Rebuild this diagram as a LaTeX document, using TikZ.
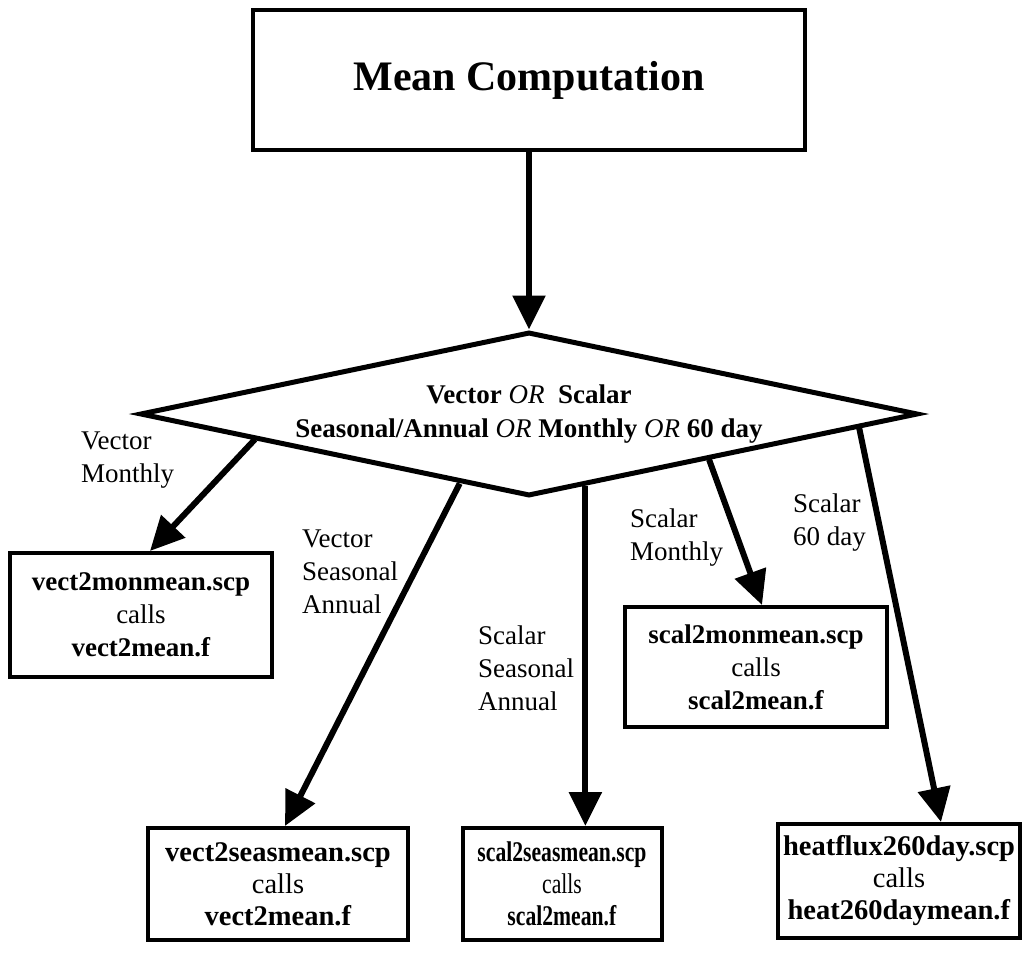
\documentclass[tikz,border=0pt]{standalone}
\usepackage{fontspec}
\setmainfont{Liberation Serif}
\newfontfamily\condserif[FakeStretch=0.76]{Liberation Serif}
\usetikzlibrary{arrows.meta,shapes.geometric,calc}
\begin{document}
\begin{tikzpicture}[x=1pt,y=-1pt]
\useasboundingbox (0,0) rectangle (1026,953);
\tikzset{
  box/.style={draw, line width=4pt, inner sep=0pt, align=center, font=\fontsize{27}{33}\selectfont},
  lowbox/.style={box, font=\fontsize{28.5}{32}\selectfont},
  arr/.style={line width=6pt, -{Triangle[length=34pt,width=32pt]}},
  lbl/.style={align=left, inner sep=0pt, anchor=west, font=\fontsize{27}{33}\selectfont},
}
% top box
\node[box, minimum width=552pt, minimum height=140pt, font=\fontsize{42}{50}\selectfont\bfseries] (mc) at (529,80) {Mean Computation};
% decision diamond
\node[diamond, draw, line width=5pt, inner xsep=-14pt, inner ysep=0pt, aspect=4.74,
      minimum width=778pt, minimum height=164pt, align=center,
      font=\fontsize{27}{34}\selectfont] (d) at (529,414)
  {\textbf{Vector} \textit{OR}\ \ \textbf{Scalar}\\
   \textbf{Seasonal/Annual} \textit{OR} \textbf{Monthly} \textit{OR} \textbf{60 day}};
% result boxes
\node[box, minimum width=262pt, minimum height=124pt] (vm) at (141,615)
  {\textbf{vect2monmean.scp}\\calls\\\textbf{vect2mean.f}};
\node[box, minimum width=262pt, minimum height=120pt] (sm) at (756,667)
  {\textbf{scal2monmean.scp}\\calls\\\textbf{scal2mean.f}};
\node[lowbox, minimum width=260pt, minimum height=112pt] (vsa) at (278,884)
  {\textbf{vect2seasmean.scp}\\calls\\\textbf{vect2mean.f}};
\node[lowbox, minimum width=199pt, minimum height=112pt, font=\condserif\fontsize{28.5}{32}\selectfont] (ssa) at (562,884)
  {\textbf{scal2seasmean.scp}\\calls\\\textbf{scal2mean.f}};
\node[lowbox, minimum width=242pt, minimum height=114pt] (sd) at (899,881)
  {\textbf{heatflux260day.scp}\\calls\\\textbf{heat260daymean.f}};
% labels
\node[lbl] (lvm) at (81,460) {Vector\\Monthly};
\node[lbl] (lvsa) at (302,572) {Vector\\Seasonal\\Annual};
\node[lbl] (lssa) at (478,668) {Scalar\\Seasonal\\Annual};
\node[lbl] (lsm) at (630,538) {Scalar\\Monthly};
\node[lbl] (lsd) at (793,523) {Scalar\\60 day};
% connectors
\coordinate (p1) at ($(d.west)!0.30!(d.south)$);
\coordinate (p2) at ($(d.west)!0.823!(d.south)$);
\coordinate (p3) at ($(d.south)!0.144!(d.east)$);
\coordinate (p4) at ($(d.south)!0.46!(d.east)$);
\coordinate (p5) at ($(d.south)!0.843!(d.east)$);
\draw[arr] (mc.south) -- (d.north);
\draw[arr] (p1) -- ([xshift=9pt]vm.north);
\draw[arr] (p2) -- ([xshift=7pt]vsa.north);
\draw[arr] (p3) -- (p3 |- ssa.north);
\draw[arr] (p4) -- ([xshift=6pt]sm.north);
\draw[arr] (p5) -- ([xshift=42pt]sd.north);
\end{tikzpicture}
\end{document}
